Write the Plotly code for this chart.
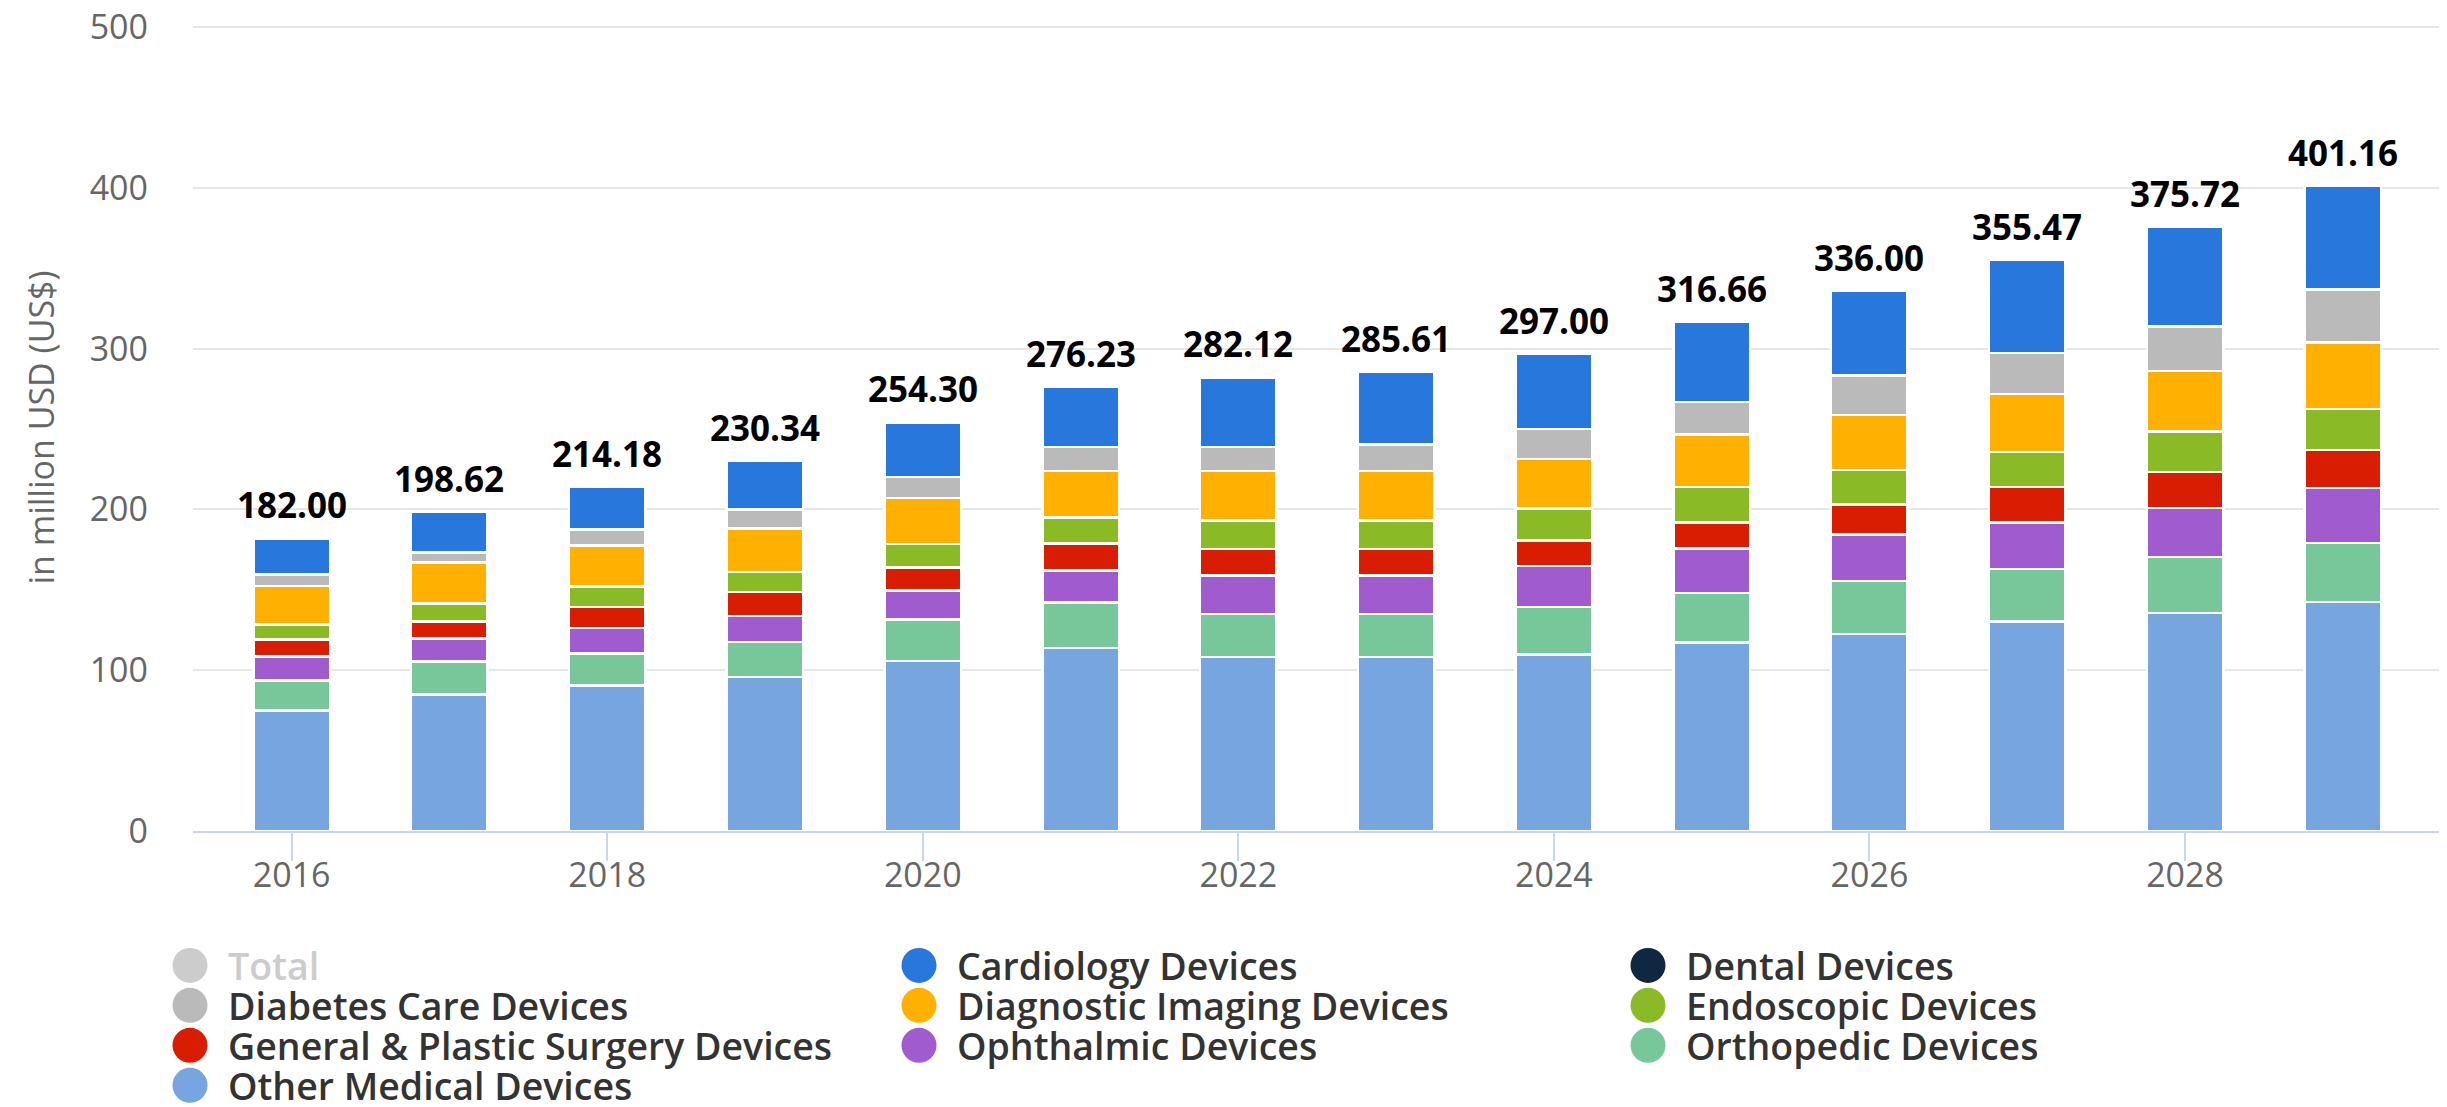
import plotly.graph_objects as go

# ---------------- data ----------------
years = [2016, 2017, 2018, 2019, 2020, 2021, 2022, 2023, 2024, 2025, 2026, 2027, 2028, 2029]
tick_years = [2016, 2018, 2020, 2022, 2024, 2026, 2028]
totals = [182.00, 198.62, 214.18, 230.34, 254.30, 276.23, 282.12, 285.61, 297.00, 316.66, 336.00, 355.47, 375.72, 401.16]

other = [75.0, 84.9, 90.5, 95.7, 105.9, 113.7, 108.3, 108.3, 109.7, 117.4, 122.4, 130.2, 135.5, 142.6]
orthopedic = [18.7, 20.4, 19.8, 22.0, 25.6, 28.4, 26.8, 26.8, 29.6, 30.6, 33.0, 32.7, 34.8, 36.6]
ophthalmic = [14.7, 14.3, 16.1, 16.0, 18.2, 20.1, 23.7, 23.7, 25.4, 27.6, 29.1, 29.1, 30.6, 34.2]
general_surgery = [10.6, 10.6, 12.9, 15.1, 14.2, 16.6, 16.6, 16.6, 16.1, 16.4, 18.5, 22.0, 22.3, 23.7]
endoscopic = [9.5, 11.2, 12.8, 12.2, 14.7, 16.1, 17.7, 17.7, 19.9, 22.0, 21.7, 21.7, 25.2, 25.3]
diagnostic = [23.8, 25.5, 25.6, 27.2, 28.7, 28.9, 30.8, 30.8, 30.8, 32.7, 34.1, 36.2, 37.8, 41.6]
diabetes = [7.3, 6.2, 9.9, 11.9, 13.0, 15.0, 15.0, 16.6, 18.5, 20.2, 24.4, 25.6, 27.6, 33.0]
cardiology = [22.4, 25.5, 26.6, 30.2, 33.9, 37.3, 43.2, 45.1, 47.0, 49.8, 52.8, 58.0, 61.9, 64.2]

# stacking order bottom -> top
stack = [
    ("Other Medical Devices", other, "#76a5e0"),
    ("Orthopedic Devices", orthopedic, "#78c79a"),
    ("Ophthalmic Devices", ophthalmic, "#a05bce"),
    ("General & Plastic Surgery Devices", general_surgery, "#d81d02"),
    ("Endoscopic Devices", endoscopic, "#8aba26"),
    ("Diagnostic Imaging Devices", diagnostic, "#ffb000"),
    ("Diabetes Care Devices", diabetes, "#bababa"),
    ("Cardiology Devices", cardiology, "#2877dc"),
]

# legend entries (row-wise, 3 columns)
legend_names = ["Total", "Cardiology Devices", "Dental Devices",
                "Diabetes Care Devices", "Diagnostic Imaging Devices", "Endoscopic Devices",
                "General & Plastic Surgery Devices", "Ophthalmic Devices", "Orthopedic Devices",
                "Other Medical Devices"]
legend_colors = ["#cccccc", "#2877dc", "#0f2740",
                 "#bababa", "#ffb000", "#8aba26",
                 "#d81d02", "#a05bce", "#78c79a",
                 "#76a5e0"]

# ---------------- figure ----------------
OFF = 8  # default page body margin offsets the figure
W, H = 2447 - OFF, 1107 - OFF
Y_TOP = 502                      # axis max a little above the 500 gridline
PX_PER_UNIT = 804.5 / 500
ML = 193 - OFF
MT = 27 - OFF - (Y_TOP - 500) * PX_PER_UNIT
PW = 2250
PH = Y_TOP * PX_PER_UNIT
MR = W - ML - PW
MB = H - MT - PH

fig = go.Figure()
for name, vals, col in stack:
    fig.add_trace(go.Bar(
        x=years, y=vals, name=name, width=0.485,
        marker=dict(color=col, line=dict(color="#ffffff", width=2.5)),
        showlegend=False,
    ))

FONT = "Open Sans"
for yr, t in zip(years, totals):
    fig.add_annotation(x=yr, y=t, xref="x", yref="y", text=f"{t:.2f}",
                       showarrow=False, yanchor="bottom", yshift=8,
                       font=dict(family=FONT, size=35, color="#000000", weight=700))

# manual legend with large circular symbols (positions in reference pixels)
col_x = [190, 919, 1648]
row_y = [966, 1006, 1046, 1086]
for i, (nm, c) in enumerate(zip(legend_names, legend_colors)):
    cx = col_x[i % 3] - OFF
    cy = row_y[i // 3] - OFF
    px = (cx - ML) / PW
    py = (MT + PH - cy) / PH
    fig.add_shape(type="circle", xref="paper", yref="paper",
                  xsizemode="pixel", ysizemode="pixel",
                  xanchor=px, yanchor=py, x0=-17.5, x1=17.5, y0=-17.5, y1=17.5,
                  fillcolor=c, line=dict(width=0))
    tcol = "#cccccc" if nm == "Total" else "#333333"
    fig.add_annotation(x=(cx + 36 - ML) / PW, y=py, xref="paper", yref="paper",
                       text=nm, showarrow=False, xanchor="left", yanchor="middle",
                       font=dict(family=FONT, size=37.5, color=tcol, weight=600))

fig.update_layout(
    width=W, height=H,
    margin=dict(l=ML, r=MR, t=MT, b=MB, pad=0, autoexpand=False),
    barmode="stack",
    paper_bgcolor="#ffffff", plot_bgcolor="#ffffff",
    font=dict(family=FONT, color="#666666"),
    showlegend=False,
    xaxis=dict(
        range=[2015.375, 2029.635], automargin=False,
        tickmode="array", tickvals=tick_years, ticktext=[str(y) for y in tick_years],
        ticks="outside", ticklen=28, tickwidth=2, tickcolor="#ccd6eb",
        ticklabelstandoff=-15,
        showline=True, linecolor="#ccd6eb", linewidth=2,
        showgrid=False, zeroline=False,
        tickfont=dict(family=FONT, size=34, color="#666666"),
    ),
    yaxis=dict(
        range=[0, Y_TOP], automargin=False,
        tickmode="array", tickvals=[0, 100, 200, 300, 400, 500],
        showgrid=True, gridcolor="#e6e6e6", gridwidth=2,
        zeroline=False, showline=False, ticks="",
        ticklabelstandoff=44, ticklabeloverflow="allow",
        tickfont=dict(family=FONT, size=34, color="#666666"),
        title=dict(text="in million USD (US$)", standoff=24,
                   font=dict(family=FONT, size=34, color="#666666")),
    ),
)

fig.write_html("out.html")
